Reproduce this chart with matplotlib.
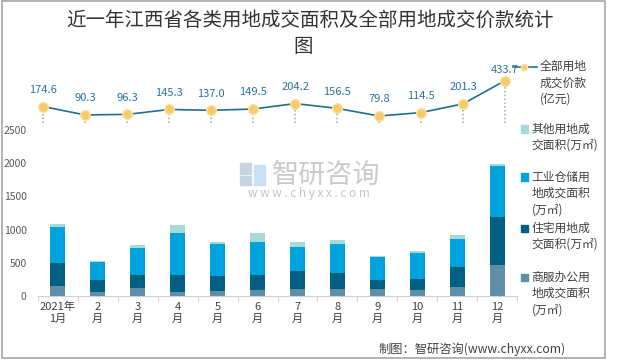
import matplotlib
matplotlib.use("Agg")
import matplotlib.pyplot as plt
from matplotlib.patches import Rectangle
from matplotlib.lines import Line2D
import numpy as np

plt.rcParams['font.family'] = ['Noto Sans CJK SC', 'DejaVu Sans']

# ---- data ----
months = ['2021年\n1月', '2\n月', '3\n月', '4\n月', '5\n月', '6\n月',
          '7\n月', '8\n月', '9\n月', '10\n月', '11\n月', '12\n月']
commercial = [156, 65, 126, 60, 80, 90, 111, 100, 111, 90, 141, 468]   # 商服办公
residential = [337, 176, 186, 262, 222, 232, 266, 247, 130, 167, 302, 729]  # 住宅
industrial = [553, 272, 417, 634, 488, 488, 367, 443, 343, 397, 422, 755]  # 工业仓储
other = [45, 10, 46, 115, 30, 136, 71, 60, 20, 20, 55, 40]  # 其他
price = [174.6, 90.3, 96.3, 145.3, 137.0, 149.5, 204.2, 156.5, 79.8, 114.5, 201.3, 433.7]
yticks = [0, 500, 1000, 1500, 2000, 2500]

C_COM = '#5E8FA6'
C_RES = '#005F82'
C_IND = '#00A2DB'
C_OTH = '#A6DAD6'
C_LINE = '#1F6F8F'
C_LABEL = '#2B74A0'
C_MK = '#F7CA6A'
C_MK_EDGE = '#FBE0A0'

W, H = 620, 364


def fx(x):
    return x / W


def fy(y):
    return 1 - y / H


fig = plt.figure(figsize=(6.2, 3.64), dpi=100)

# frame round the whole chart
fig.patches.append(Rectangle((fx(2), fy(358)), fx(603), 357 / H, transform=fig.transFigure,
                             fill=False, edgecolor='#A6A6A6', linewidth=1.2))

# ---- bars ----
ax = fig.add_axes([fx(37.7), fy(296), fx(479.6), 166 / H])
x = np.arange(len(months))
bw = 0.39
b1 = np.array(commercial)
b2 = b1 + np.array(residential)
b3 = b2 + np.array(industrial)
ax.bar(x, commercial, bw, color=C_COM, zorder=2)
ax.bar(x, residential, bw, bottom=b1, color=C_RES, zorder=2)
ax.bar(x, industrial, bw, bottom=b2, color=C_IND, zorder=2)
ax.bar(x, other, bw, bottom=b3, color=C_OTH, zorder=2)
ax.set_xlim(-0.5, len(months) - 0.5)
ax.set_ylim(0, 2500)
ax.set_yticks(yticks)
ax.set_yticklabels([str(v) for v in yticks], fontsize=7.5, color='#595959')
ax.tick_params(axis='y', length=0, pad=8)
ax.set_xticks(x)
ax.set_xticklabels(months, fontsize=8, color='#404040', linespacing=1.3)
ax.set_xticks(np.arange(-0.5, len(months)), minor=True)
ax.tick_params(axis='x', which='major', length=0, pad=4)
ax.tick_params(axis='x', which='minor', length=3.5, color='#D0D0D0', width=0.8)
for s in ['top', 'right', 'left']:
    ax.spines[s].set_visible(False)
ax.spines['bottom'].set_color('#D0D0D0')
ax.spines['bottom'].set_linewidth(0.8)

# ---- price line (own strip above the bars) ----
ax2 = fig.add_axes([fx(22.3), fy(123), fx(503.7), 53 / H])
ax2.set_xlim(-0.5, len(price) - 0.5)
ax2.set_ylim(10, 540)
ax2.axis('off')
xp = np.arange(len(price))
ax2.vlines(xp, 10, price, colors='#A6A6A6', linestyles=(0, (1, 1.5)), linewidth=1.1, zorder=1)
ax2.plot(xp, price, color=C_LINE, linewidth=1.2, zorder=2,
         marker='o', markersize=7, markerfacecolor=C_MK, markeredgecolor=C_MK_EDGE,
         markeredgewidth=1, clip_on=False)
for i, v in enumerate(price):
    off = 8 if i == len(price) - 1 else 12
    ax2.annotate(f'{v:.1f}', (i, v), xytext=(0, off), textcoords='offset points',
                 ha='center', va='center', fontsize=8, color=C_LABEL, zorder=5,
                 annotation_clip=False)

# ---- title ----
fig.text(fx(310), fy(20), '近一年江西省各类用地成交面积及全部用地成交价款统计',
         ha='center', va='center', fontsize=14, color='#333333')
fig.text(fx(303), fy(47), '图', ha='center', va='center', fontsize=14, color='#333333')

# ---- legend ----
step = 16.5
fig.lines.append(Line2D([fx(513), fx(537)], [fy(66.5), fy(66.5)], transform=fig.transFigure,
                        color=C_LINE, linewidth=1.2))
fig.lines.append(Line2D([fx(524)], [fy(66.5)], transform=fig.transFigure, marker='o',
                        markersize=4.5, markerfacecolor=C_MK, markeredgecolor=C_MK_EDGE,
                        linestyle='none'))
for k, line in enumerate(['全部用地', '成交价款', '(亿元)']):
    fig.text(fx(540), fy(66.5 + k * step), line, ha='left', va='center',
             fontsize=8.5, color='#404040')

legend_items = [
    (C_OTH, ['其他用地成', '交面积(万㎡)'], 129),
    (C_IND, ['工业仓储用', '地成交面积', '(万㎡)'], 177),
    (C_RES, ['住宅用地成', '交面积(万㎡)'], 228),
    (C_COM, ['商服办公用', '地成交面积', '(万㎡)'], 277),
]
for color, lines, y0 in legend_items:
    fig.patches.append(Rectangle((fx(521), fy(y0 + 3.5)), fx(7), 7 / H,
                                 transform=fig.transFigure, color=color))
    for k, line in enumerate(lines):
        fig.text(fx(531.5), fy(y0 + k * step), line, ha='left', va='center',
                 fontsize=8.5, color='#404040')

# ---- watermark ----
fig.patches.append(Rectangle((fx(240), fy(174)), fx(11), 11 / H, transform=fig.transFigure,
                             color='#C5D3E3', zorder=0))
fig.patches.append(Rectangle((fx(254), fy(185)), fx(11), 20 / H, transform=fig.transFigure,
                             color='#C9E0F2', zorder=0))
fig.patches.append(Rectangle((fx(240), fy(185)), fx(11), 9 / H, transform=fig.transFigure,
                             color='#C5D3E3', zorder=0))
fig.text(fx(326), fy(175), '智研咨询', ha='center', va='center', fontsize=19.5,
         color='#CACACA', zorder=0)
fig.text(fx(309), fy(194), 'w w w . c h y x x . c o m', ha='center', va='center',
         fontsize=8.5, color='#C4C4C4', zorder=0)

# ---- footer ----
fig.text(fx(566), fy(349), '制图：智研咨询(www.chyxx.com)', ha='right', va='center',
         fontsize=8.8, color='#404040')

fig.savefig('out.png', dpi=100)
